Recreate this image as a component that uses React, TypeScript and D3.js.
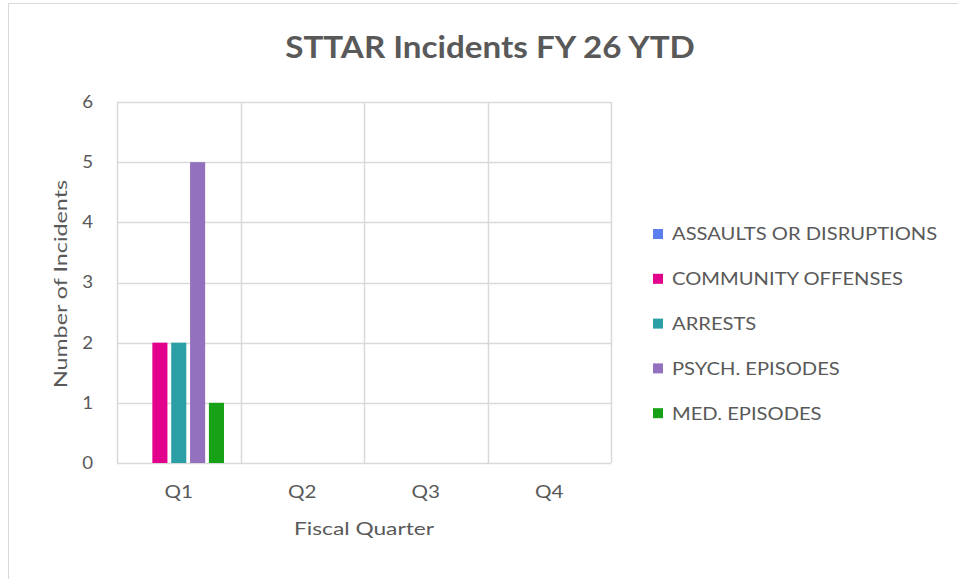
import React, { useEffect, useRef } from 'react';
import * as d3 from 'd3';

const quarters = ['Q1', 'Q2', 'Q3', 'Q4'];
const seriesNames = ['ASSAULTS OR DISRUPTIONS', 'COMMUNITY OFFENSES', 'ARRESTS', 'PSYCH. EPISODES', 'MED. EPISODES'];
const seriesColors = ['#5B7FEE', '#E3008C', '#2A9FA6', '#9471BE', '#17A117'];
const assaults = [0, 0, 0, 0];
const community = [2, 0, 0, 0];
const arrests = [2, 0, 0, 0];
const psych = [5, 0, 0, 0];
const medical = [1, 0, 0, 0];
const yTicks = [0, 1, 2, 3, 4, 5, 6];

// widen text horizontally (the reference font is rendered wider than Lato)
const stretch = (sel: d3.Selection<SVGTextElement, any, any, any>, factor: number) => {
  sel.each(function () {
    const len = (this as SVGTextElement).getComputedTextLength();
    d3.select(this)
      .attr('textLength', len * factor)
      .attr('lengthAdjust', 'spacingAndGlyphs');
  });
};

const App = () => {
  const svgRef = useRef<SVGSVGElement | null>(null);

  useEffect(() => {
    const W = 958;
    const H = 579;
    const margin = { top: 102, left: 117, right: 347, bottom: 116 };
    const width = W - margin.left - margin.right;
    const height = H - margin.top - margin.bottom;
    const font = 'Lato, "Open Sans", sans-serif';
    const textColor = '#595959';

    const root = d3.select(svgRef.current);
    root.selectAll('*').remove();

    root.append('rect')
      .attr('x', 0).attr('y', 0).attr('width', W).attr('height', H)
      .attr('fill', '#fff');

    // chart frame
    root.append('rect')
      .attr('x', 8.5).attr('y', 3.5).attr('width', W + 20).attr('height', H + 20)
      .attr('fill', 'none').attr('stroke', '#d9d9d9');

    const allSeries = [assaults, community, arrests, psych, medical];

    const x0 = d3.scaleBand().domain(quarters).range([0, width]).paddingInner(0).paddingOuter(0);
    const x1 = d3.scaleBand<number>()
      .domain(d3.range(seriesNames.length))
      .range([16.5, x0.bandwidth() - 16.5])
      .paddingInner(0.2);
    const y = d3.scaleLinear().domain([0, 6]).range([height, 0]);

    const g = root.append('g').attr('transform', `translate(${margin.left},${margin.top})`);

    // horizontal grid
    g.selectAll('.hgrid')
      .data(yTicks)
      .enter()
      .append('line')
      .attr('x1', 0).attr('x2', width)
      .attr('y1', d => Math.round(y(d)) + 0.5)
      .attr('y2', d => Math.round(y(d)) + 0.5)
      .attr('stroke', '#d9d9d9')
      .attr('stroke-width', 1.5);

    // vertical grid at category boundaries
    g.selectAll('.vgrid')
      .data(d3.range(quarters.length + 1))
      .enter()
      .append('line')
      .attr('x1', d => Math.round(d * x0.step()) + 0.5)
      .attr('x2', d => Math.round(d * x0.step()) + 0.5)
      .attr('y1', 0).attr('y2', height)
      .attr('stroke', '#d9d9d9')
      .attr('stroke-width', 1.5);

    // bars
    quarters.forEach((q, qi) => {
      allSeries.forEach((vals, si) => {
        const v = vals[qi];
        if (v <= 0) return;
        g.append('rect')
          .attr('x', (x0(q) ?? 0) + (x1(si) ?? 0))
          .attr('y', y(v))
          .attr('width', x1.bandwidth())
          .attr('height', height - y(v))
          .attr('fill', seriesColors[si]);
      });
    });

    // y tick labels
    const yLabels = g.selectAll('.ytick')
      .data(yTicks)
      .enter()
      .append('text')
      .attr('x', -24)
      .attr('y', d => y(d))
      .attr('dy', '0.35em')
      .attr('text-anchor', 'end')
      .style('font-family', font)
      .style('font-size', '17px')
      .style('fill', textColor)
      .text(d => d);
    stretch(yLabels as any, 1.1);

    // x tick labels
    const xLabels = g.selectAll('.xtick')
      .data(quarters)
      .enter()
      .append('text')
      .attr('x', d => (x0(d) ?? 0) + x0.bandwidth() / 2)
      .attr('y', height + 35)
      .attr('text-anchor', 'middle')
      .style('font-family', font)
      .style('font-size', '16.5px')
      .style('fill', textColor)
      .text(d => d);
    stretch(xLabels as any, 1.25);

    // axis titles
    const xTitle = g.append('text')
      .attr('x', width / 2)
      .attr('y', 535 - margin.top)
      .attr('text-anchor', 'middle')
      .style('font-family', font)
      .style('font-size', '17.5px')
      .style('fill', textColor)
      .text('Fiscal Quarter');
    stretch(xTitle as any, 1.3);

    const yTitle = g.append('text')
      .attr('transform', `translate(${61 - margin.left},${284 - margin.top}) rotate(-90)`)
      .attr('dy', '0.35em')
      .attr('text-anchor', 'middle')
      .style('font-family', font)
      .style('font-size', '17.5px')
      .style('fill', textColor)
      .text('Number of Incidents');
    stretch(yTitle as any, 1.33);

    // title
    const title = root.append('text')
      .attr('x', 490)
      .attr('y', 58)
      .attr('text-anchor', 'middle')
      .style('font-family', font)
      .style('font-size', '31px')
      .style('font-weight', 'bold')
      .style('fill', textColor)
      .text('STTAR Incidents FY 26 YTD');
    stretch(title as any, 1.07);

    // legend
    const legend = root.append('g').attr('transform', 'translate(653,234)');
    seriesNames.forEach((name, i) => {
      const row = legend.append('g').attr('transform', `translate(0,${i * 44.8})`);
      row.append('rect')
        .attr('x', 0).attr('y', -5).attr('width', 10).attr('height', 10)
        .attr('fill', seriesColors[i]);
      const label = row.append('text')
        .attr('x', 19)
        .attr('y', 0)
        .attr('dy', '0.35em')
        .style('font-family', font)
        .style('font-size', '18px')
        .style('fill', textColor)
        .text(name);
      stretch(label as any, 1.12);
    });
  }, []);

  return (
    <svg
      ref={svgRef}
      width={958}
      height={579}
      style={{ position: 'absolute', left: 0, top: 0, display: 'block' }}
    ></svg>
  );
};

export default App;
